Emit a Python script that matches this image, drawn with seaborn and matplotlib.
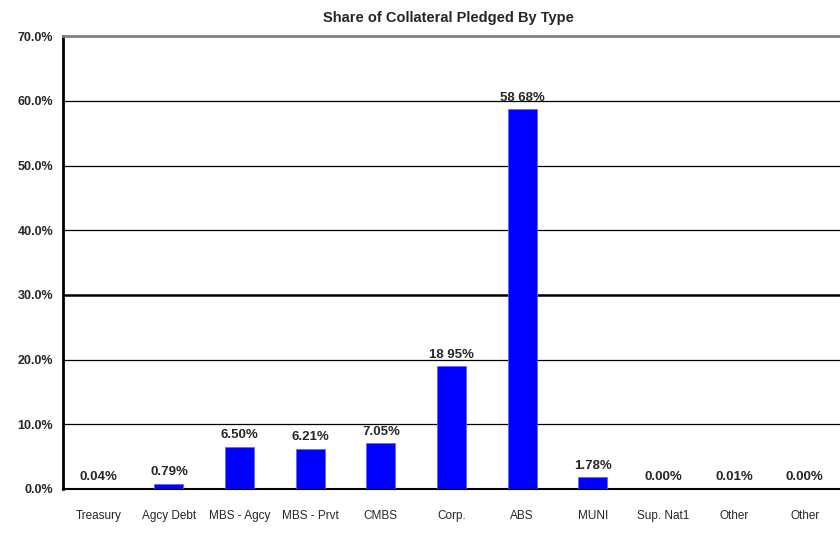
import pandas as pd
import seaborn as sns
import matplotlib.pyplot as plt
from matplotlib.ticker import FixedLocator

categories = ['Treasury', 'Agcy Debt', 'MBS - Agcy', 'MBS - Prvt', 'CMBS', 'Corp.',
              'ABS', 'MUNI', 'Sup. Nat1', 'Other', 'Other']
shares = [0.04, 0.79, 6.50, 6.21, 7.05, 18.95, 58.68, 1.78, 0.00, 0.01, 0.00]
bar_labels = ['0.04%', '0.79%', '6.50%', '6.21%', '7.05%', '18 95%', '58 68%',
              '1.78%', '0.00%', '0.01%', '0.00%']
y_ticks = [0, 10, 20, 30, 40, 50, 60, 70]

# duplicate "Other" names -> use a unique key per bar
df = pd.DataFrame({'key': [f'{i}_{c}' for i, c in enumerate(categories)],
                   'share': shares})

sns.set_style('white')
plt.rcParams['font.family'] = ['Liberation Sans', 'DejaVu Sans']

fig = plt.figure(figsize=(8.4, 5.48), dpi=100)
ax = fig.add_axes([0.075, 0.1077, 0.925, 0.8263])

sns.barplot(x='key', y='share', data=df, color='#0000FF', width=0.41,
            saturation=1, edgecolor='#6666FF', linewidth=0.6, ax=ax, zorder=3)

for i, (v, lab) in enumerate(zip(shares, bar_labels)):
    ax.text(i, v + 0.9, lab, ha='center', va='bottom', fontsize=9.5,
            fontweight='bold', zorder=4)

ax.set_xlim(-0.5, len(categories) - 0.5)
ax.set_ylim(0, 70)
ax.set_yticks(y_ticks)
ax.set_yticklabels([f'{t:.1f}%' for t in y_ticks], fontsize=9, fontweight='bold')
ax.set_xticks(range(len(categories)))
ax.set_xticklabels(categories, fontsize=8.5)
ax.tick_params(axis='x', which='major', length=0, pad=15)
ax.xaxis.set_minor_locator(FixedLocator([i + 0.5 for i in range(len(categories) - 1)]))
ax.tick_params(axis='x', which='minor', length=5, width=1, color='black', direction='out')
ax.tick_params(axis='y', length=4, width=1, color='black', direction='out', pad=3)

for t in y_ticks[1:-1]:
    ax.axhline(t, color='black', lw=1.8 if t == 30 else 0.9, zorder=1)

ax.set_xlabel('')
ax.set_ylabel('')
ax.spines['right'].set_visible(False)
ax.spines['top'].set_color('#808080')
ax.spines['top'].set_linewidth(2)
ax.spines['left'].set_color('black')
ax.spines['left'].set_linewidth(2)
ax.spines['bottom'].set_color('black')
ax.spines['bottom'].set_linewidth(1.5)

fig.text(0.534, 0.968, 'Share of Collateral Pledged By Type', ha='center', va='center',
         fontsize=10.5, fontweight='bold')

fig.savefig('out.png', dpi=100)
